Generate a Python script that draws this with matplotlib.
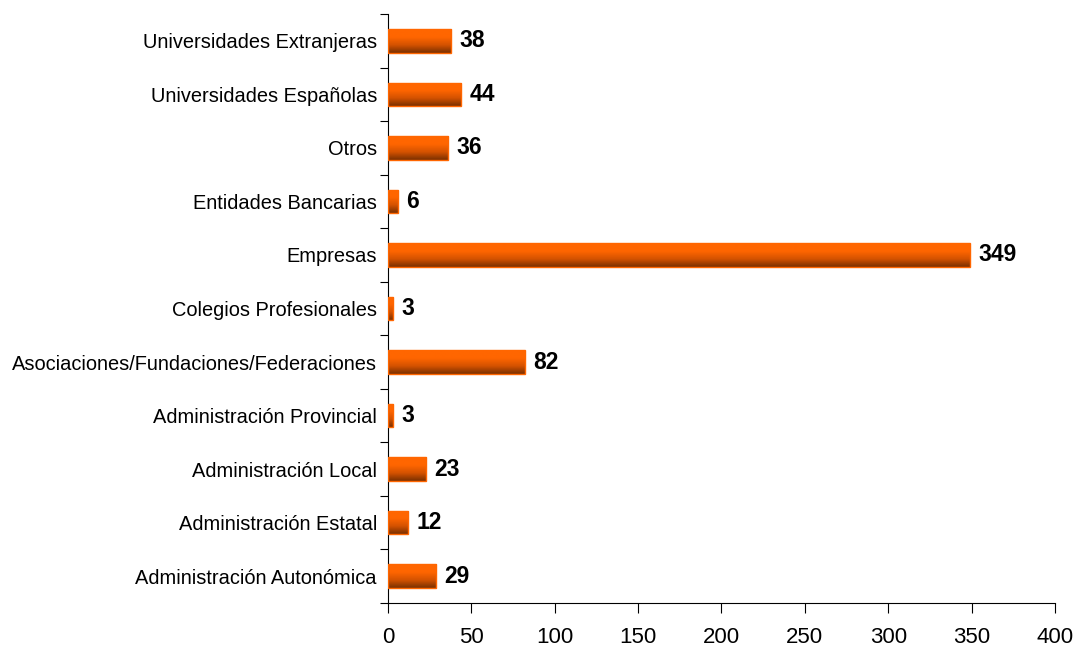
import matplotlib
matplotlib.use('Agg')
import matplotlib.pyplot as plt
import numpy as np
from matplotlib.colors import LinearSegmentedColormap

categories = ['Administración Autonómica', 'Administración Estatal', 'Administración Local',
              'Administración Provincial', 'Asociaciones/Fundaciones/Federaciones',
              'Colegios Profesionales', 'Empresas', 'Entidades Bancarias', 'Otros',
              'Universidades Españolas', 'Universidades Extranjeras']
values = [29, 12, 23, 3, 82, 3, 349, 6, 36, 44, 38]
xticks = [0, 50, 100, 150, 200, 250, 300, 350, 400]

plt.rcParams['font.family'] = ['Liberation Sans', 'DejaVu Sans']

fig = plt.figure(figsize=(10.82, 6.5), dpi=100)
ax = fig.add_axes([0.3586, 0.0723, 0.9750 - 0.3586, 0.9785 - 0.0723])

y = np.arange(len(categories))
bars = ax.barh(y, values, height=0.44, color='none', edgecolor='#FF6600', linewidth=1.0, zorder=3)

# vertical gradient inside every bar: orange on top, dark brown at the bottom
cmap = LinearSegmentedColormap.from_list('grad', ['#FF6600', '#FF6600', '#D45200', '#7A3000'])
grad = np.linspace(0, 1, 100).reshape(-1, 1)
for b in bars:
    x0, y0 = b.get_x(), b.get_y()
    w, h = b.get_width(), b.get_height()
    im = ax.imshow(grad, cmap=cmap, aspect='auto', origin='upper',
                   extent=[x0, x0 + w, y0, y0 + h], zorder=2)
    im.set_clip_path(b)

ax.bar_label(bars, labels=[str(v) for v in values], padding=6,
             fontsize=16.5, fontweight='bold')

ax.set_xlim(0, 400)
ax.set_ylim(-0.5, len(categories) - 0.5)
ax.set_xticks(xticks)
ax.tick_params(axis='x', labelsize=16, length=7, pad=10, direction='out')

# ticks sit between the categories, labels at the centres
ax.set_yticks(np.arange(-0.5, len(categories), 1.0))
ax.set_yticklabels([])
ax.set_yticks(y, minor=True)
ax.set_yticklabels(categories, minor=True)
ax.tick_params(axis='y', which='major', length=6)
ax.tick_params(axis='y', which='minor', length=0, labelsize=14.4, pad=8)

ax.spines['top'].set_visible(False)
ax.spines['right'].set_visible(False)

plt.savefig('out.png', dpi=100)
